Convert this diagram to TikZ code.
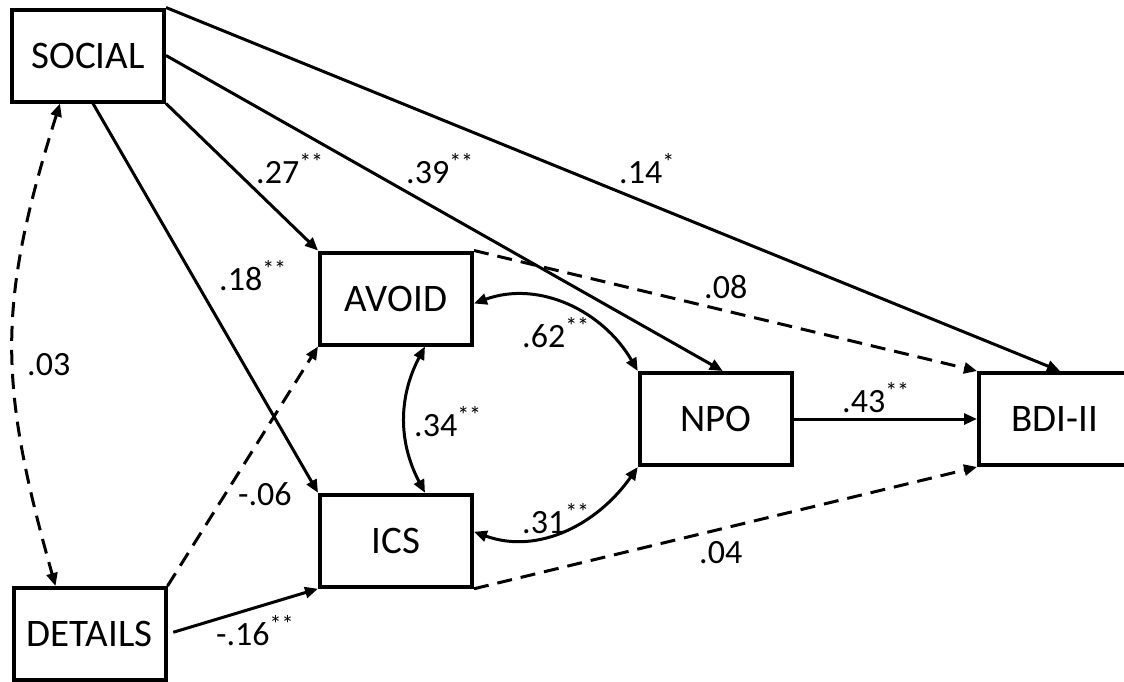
\documentclass[tikz,border=0pt]{standalone}
\usepackage{fontspec}
\setmainfont{Carlito}
\usetikzlibrary{arrows.meta}
\newcommand{\st}[1]{\raisebox{13pt}{\fontsize{24}{24}\selectfont #1}}
\tikzset{
  box/.style={draw, line width=4pt, minimum width=152pt, minimum height=92pt, inner sep=0pt, font=\fontsize{39}{42}\selectfont},
  lab/.style={inner sep=0pt, anchor=base west, font=\fontsize{34}{36}\selectfont},
  tip/.tip={Triangle[length=13pt,width=11pt]},
  conn/.style={line width=3pt, -tip},
  both/.style={line width=3pt, tip-tip},
  dsh/.style={dash pattern=on 15pt off 9pt}
}
\begin{document}
\begin{tikzpicture}[x=1pt,y=-1pt]
\useasboundingbox (0,0) rectangle (1124,681);
% boxes
\node[box] (social)  at (88,55.5)    {SOCIAL};
\node[box] (details) at (89.5,634)   {DETAILS};
\node[box] (avoid)   at (396,298.5)  {AVOID};
\node[box] (ics)     at (396,540.75) {ICS};
\node[box] (npo)     at (715.75,419) {NPO};
\node[box] (bdi)     at (1055,419)   {BDI-II};
% paths from SOCIAL
\draw[conn] (social.north east) -- ([xshift=5pt]bdi.north);
\draw[conn] (social.east) -- ([xshift=7pt]npo.north);
\draw[conn] (social.south east) -- (avoid.north west);
\draw[conn] ([xshift=5pt]social.south) -- (ics.north west);
% covariance SOCIAL-DETAILS
\draw[both, dsh] ([xshift=-28pt]social.south) .. controls (-3,304) and (-2,382) .. ([xshift=-34pt]details.north);
% paths from DETAILS
\draw[conn, dsh] (details.north east) -- (avoid.south west);
\draw[conn, shorten <=6pt] (details.east) -- (ics.south west);
% paths to BDI
\draw[conn, dsh] (avoid.north east) -- (bdi.north west);
\draw[conn] (npo.east) -- (bdi.west);
\draw[conn, dsh] (ics.south east) -- (bdi.south west);
% covariances among mediators
\draw[both] ([yshift=-5pt]avoid.east) to[out=20, in=120] (npo.north west);
\draw[both] ([xshift=29pt]avoid.south) to[out=242, in=118] ([xshift=29pt]ics.north);
\draw[both] ([yshift=9pt]ics.east) to[out=-20, in=235] (npo.south west);
% labels
\node[lab] (l14) at (619,183) {.14\st{*}};
\node[lab] (l39) at (406,183) {.39\st{**}};
\node[lab] (l27) at (256,183) {.27\st{**}};
\node[lab] (l18) at (219,290) {.18\st{**}};
\node[lab] (l03) at (27,375)  {.03};
\node[lab] (l08) at (704,298) {.08};
\node[lab] (l62) at (522,347) {.62\st{**}};
\node[lab] (l34) at (414,436) {.34\st{**}};
\node[lab] (l43) at (842,412) {.43\st{**}};
\node[lab] (l06) at (238,505) {-.06};
\node[lab] (l31) at (522,533) {.31\st{**}};
\node[lab] (l04) at (699,563) {.04};
\node[lab] (l16) at (216,645) {-.16\st{**}};
\end{tikzpicture}
\end{document}
